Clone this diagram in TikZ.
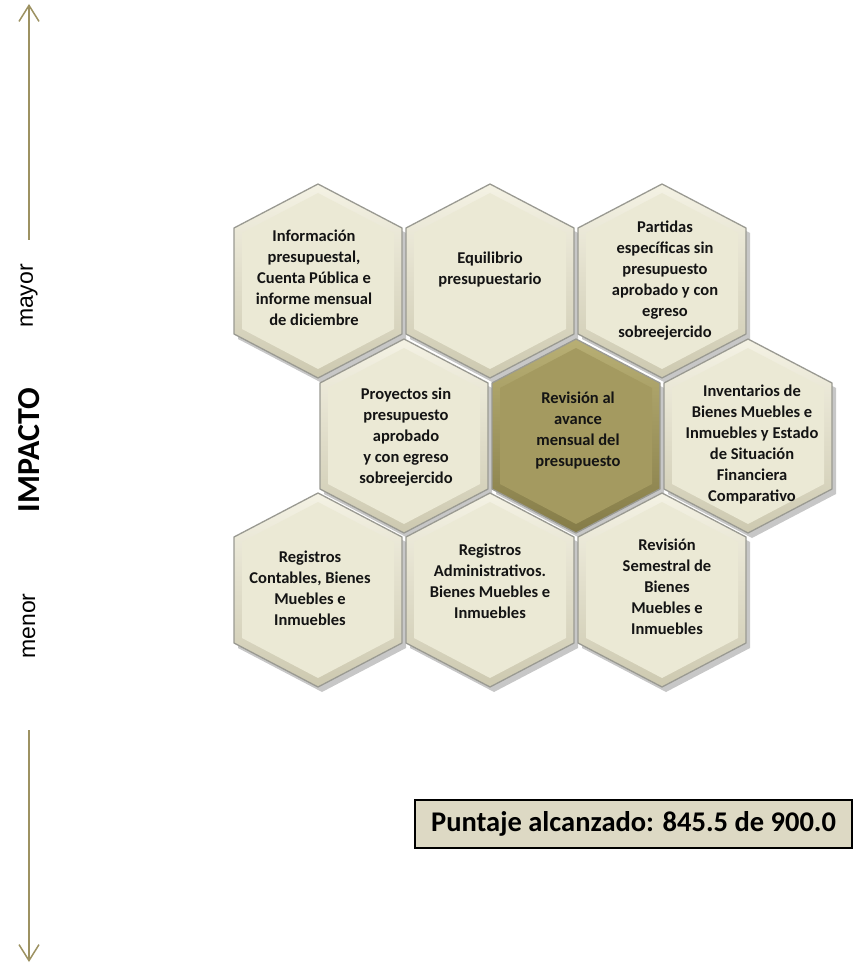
\documentclass[tikz,border=0pt]{standalone}
\usepackage{fontspec}
\setmainfont{Carlito}
\newfontfamily\arialf{Liberation Sans}
\usetikzlibrary{arrows.meta}
\definecolor{face}{HTML}{EBE9D5}
\definecolor{bevtop}{HTML}{F4F2E4}
\definecolor{bevbot}{HTML}{CDC9B0}
\definecolor{hexline}{HTML}{9A9A92}
\definecolor{oface}{HTML}{A49A60}
\definecolor{obevtop}{HTML}{B8AF74}
\definecolor{obevbot}{HTML}{857C48}
\definecolor{axiscol}{HTML}{9D9262}
\definecolor{boxfill}{HTML}{DDD9C4}
\tikzset{
  hextext/.style={align=center, inner sep=0pt, font=\bfseries\fontsize{16.5}{21}\selectfont, text=black!92},
  axisline/.style={draw=axiscol, line width=1.5pt, -{Straight Barb[length=16pt,width=20pt,line width=1.5pt]}},
  axislabel/.style={rotate=90, inner sep=0pt, font=\arialf\fontsize{23}{23}\selectfont},
}
% #1 x, #2 y, #3 bevel top, #4 bevel bottom, #5 face
\newcommand{\hexshape}[5]{%
  \fill[black, opacity=.22] (#1+4,#2+5) +(0,-97) -- +(84,-53) -- +(84,53) -- +(0,97) -- +(-84,53) -- +(-84,-53) -- cycle;
  \path[top color=#3, bottom color=#4, draw=hexline, line width=1.3pt] (#1,#2) +(0,-97) -- +(84,-53) -- +(84,53) -- +(0,97) -- +(-84,53) -- +(-84,-53) -- cycle;
  \fill[#5] (#1,#2) +(0,-88) -- +(76,-48) -- +(76,48) -- +(0,88) -- +(-76,48) -- +(-76,-48) -- cycle;
}
\begin{document}
\begin{tikzpicture}[x=1pt,y=-1pt]
\useasboundingbox (0,0) rectangle (854,965);
% hexagons
\hexshape{318}{281}{bevtop}{bevbot}{face}
\hexshape{490}{281}{bevtop}{bevbot}{face}
\hexshape{662}{281}{bevtop}{bevbot}{face}
\hexshape{404}{436}{bevtop}{bevbot}{face}
\hexshape{576}{436}{obevtop}{obevbot}{oface}
\hexshape{748}{436}{bevtop}{bevbot}{face}
\hexshape{318}{590}{bevtop}{bevbot}{face}
\hexshape{490}{590}{bevtop}{bevbot}{face}
\hexshape{662}{590}{bevtop}{bevbot}{face}
% texts
\node[hextext] (a) at (314,278) {Información\\presupuestal,\\Cuenta Pública e\\informe mensual\\de diciembre};
\node[hextext] (b) at (490,270) {Equilibrio\\presupuestario};
\node[hextext] (c) at (665,281) {Partidas\\específicas sin\\presupuesto\\aprobado y con\\egreso\\sobreejercido};
\node[hextext] (d) at (406,437) {Proyectos sin\\presupuesto\\aprobado\\y con egreso\\sobreejercido};
\node[hextext] (e) at (578,431) {Revisión al\\avance\\mensual del\\presupuesto};
\node[hextext] (f) at (752,445) {Inventarios de\\Bienes Muebles e\\Inmuebles y Estado\\de Situación\\Financiera\\Comparativo};
\node[hextext] (g) at (310,588) {Registros\\Contables, Bienes\\Muebles e\\Inmuebles};
\node[hextext] (h) at (490,581) {Registros\\Administrativos.\\Bienes Muebles e\\Inmuebles};
\node[hextext] (i) at (667,587) {Revisión\\Semestral de\\Bienes\\Muebles e\\Inmuebles};
% axis
\coordinate (upstart) at (29,240);
\coordinate (uptip) at (29,4);
\coordinate (downstart) at (29,730);
\coordinate (downtip) at (29,962);
\draw[axisline] (upstart) -- (uptip);
\draw[axisline] (downstart) -- (downtip);
\node[axislabel] (mayor) at (29,296) {mayor};
\node[axislabel, font=\bfseries\fontsize{32}{32}\selectfont] (impacto) at (29,450) {IMPACTO};
\node[axislabel] (menor) at (29,626) {menor};
% score box
\node[draw=black, fill=boxfill, line width=1.3pt, minimum width=437pt, minimum height=48pt, inner sep=0pt,
      font=\bfseries\fontsize{28.5}{32}\selectfont] (score) at (633.5,824) {Puntaje alcanzado: 845.5 de 900.0};
\end{tikzpicture}
\end{document}
